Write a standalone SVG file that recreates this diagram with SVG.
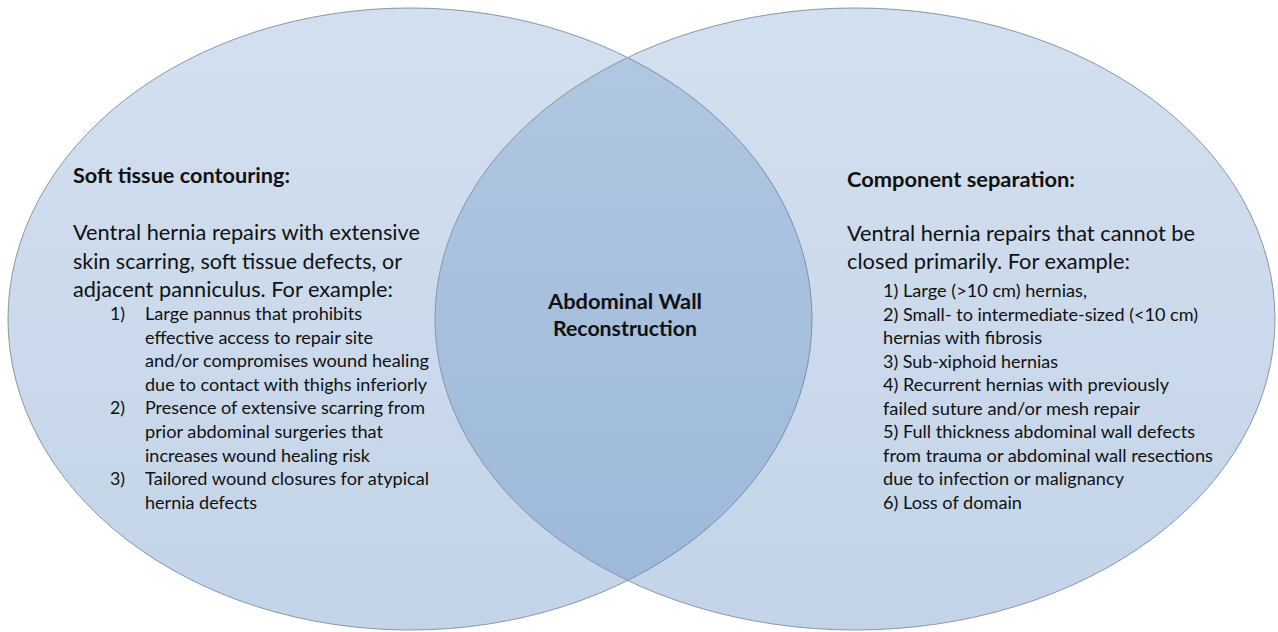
<svg xmlns="http://www.w3.org/2000/svg" width="1278" height="632" viewBox="0 0 1278 632">
<defs>
<linearGradient id="fillGrad" x1="0" y1="0" x2="0" y2="1">
<stop offset="0" stop-color="#4F81BD" stop-opacity="0.25"/>
<stop offset="1" stop-color="#4F81BD" stop-opacity="0.34"/>
</linearGradient>
<style>
.set{fill:url(#fillGrad);stroke:#8a95aa;stroke-width:1}
text{font-family:Lato,"Open Sans","Liberation Sans",sans-serif;fill:#111}
.hd{font-weight:bold;font-size:21.3px}
.ds{font-size:21.3px}
.ls{font-size:17.8px}
.ct{font-weight:bold;font-size:21.3px;text-anchor:middle}
</style>
</defs>
<rect width="1278" height="632" fill="#ffffff"/>
<g id="left-set">
<ellipse class="set" cx="410" cy="319" rx="402" ry="311"/>
<text class="hd" x="73" y="183" textLength="217" lengthAdjust="spacingAndGlyphs">Soft tissue contouring:</text>
<text class="ds" x="73" y="240" textLength="347" lengthAdjust="spacingAndGlyphs">Ventral hernia repairs with extensive</text>
<text class="ds" x="73" y="268.5" textLength="329" lengthAdjust="spacingAndGlyphs">skin scarring, soft tissue defects, or</text>
<text class="ds" x="73" y="297" textLength="320" lengthAdjust="spacingAndGlyphs">adjacent panniculus. For example:</text>
<text class="ls" x="110" y="320">1)</text>
<text class="ls" x="145" y="320" textLength="217" lengthAdjust="spacingAndGlyphs">Large pannus that prohibits</text>
<text class="ls" x="145" y="343.6" textLength="228" lengthAdjust="spacingAndGlyphs">effective access to repair site</text>
<text class="ls" x="145" y="367.2" textLength="284" lengthAdjust="spacingAndGlyphs">and/or compromises wound healing</text>
<text class="ls" x="145" y="390.8" textLength="282" lengthAdjust="spacingAndGlyphs">due to contact with thighs inferiorly</text>
<text class="ls" x="110" y="414.4">2)</text>
<text class="ls" x="145" y="414.4" textLength="280" lengthAdjust="spacingAndGlyphs">Presence of extensive scarring from</text>
<text class="ls" x="145" y="438" textLength="238" lengthAdjust="spacingAndGlyphs">prior abdominal surgeries that</text>
<text class="ls" x="145" y="461.6" textLength="225" lengthAdjust="spacingAndGlyphs">increases wound healing risk</text>
<text class="ls" x="110" y="485.2">3)</text>
<text class="ls" x="145" y="485.2" textLength="284" lengthAdjust="spacingAndGlyphs">Tailored wound closures for atypical</text>
<text class="ls" x="145" y="508.8" textLength="112" lengthAdjust="spacingAndGlyphs">hernia defects</text>
</g>
<g id="right-set">
<ellipse class="set" cx="855" cy="319" rx="420" ry="311"/>
<text class="hd" x="847" y="187" textLength="228" lengthAdjust="spacingAndGlyphs">Component separation:</text>
<text class="ds" x="847" y="241" textLength="348" lengthAdjust="spacingAndGlyphs">Ventral hernia repairs that cannot be</text>
<text class="ds" x="847" y="269" textLength="283" lengthAdjust="spacingAndGlyphs">closed primarily. For example:</text>
<text class="ls" x="883" y="297" textLength="204" lengthAdjust="spacingAndGlyphs">1) Large (&gt;10 cm) hernias,</text>
<text class="ls" x="883" y="320.5" textLength="315" lengthAdjust="spacingAndGlyphs">2) Small- to intermediate-sized (&lt;10 cm)</text>
<text class="ls" x="883" y="344" textLength="159" lengthAdjust="spacingAndGlyphs">hernias with fibrosis</text>
<text class="ls" x="883" y="367.5" textLength="175" lengthAdjust="spacingAndGlyphs">3) Sub-xiphoid hernias</text>
<text class="ls" x="883" y="391" textLength="286" lengthAdjust="spacingAndGlyphs">4) Recurrent hernias with previously</text>
<text class="ls" x="883" y="414.5" textLength="257" lengthAdjust="spacingAndGlyphs">failed suture and/or mesh repair</text>
<text class="ls" x="883" y="438" textLength="312" lengthAdjust="spacingAndGlyphs">5) Full thickness abdominal wall defects</text>
<text class="ls" x="883" y="461.5" textLength="330" lengthAdjust="spacingAndGlyphs">from trauma or abdominal wall resections</text>
<text class="ls" x="883" y="485" textLength="241" lengthAdjust="spacingAndGlyphs">due to infection or malignancy</text>
<text class="ls" x="883" y="508.5" textLength="139" lengthAdjust="spacingAndGlyphs">6) Loss of domain</text>
</g>
<g id="overlap-label">
<text class="ct" x="625" y="309" textLength="154" lengthAdjust="spacingAndGlyphs">Abdominal Wall</text>
<text class="ct" x="625" y="336" textLength="144" lengthAdjust="spacingAndGlyphs">Reconstruction</text>
</g>
<g id="connectors"/>
</svg>
